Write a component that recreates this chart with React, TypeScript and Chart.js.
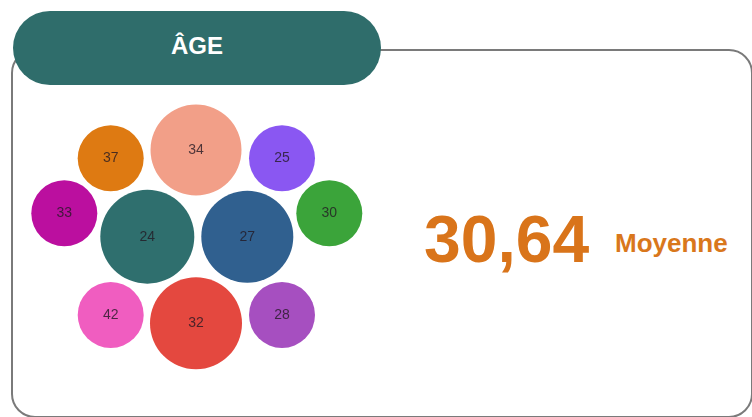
import React, { useEffect, useRef } from "react";
import { Chart, registerables } from "chart.js";

Chart.register(...registerables);

// Ages shown in each bubble
const ages = [37, 34, 25, 33, 24, 27, 30, 42, 32, 28];
// Packed-bubble layout (layout units) and bubble radii
const bubbleX = [90.7, 176, 262, 44.3, 127.3, 227.3, 309.3, 90.7, 176, 262];
const bubbleY = [63.3, 55, 63.3, 118.3, 141.7, 141.7, 118.3, 220, 228.3, 220];
const bubbleR = [33, 45.5, 33, 33, 47, 46, 33, 33, 46, 33];
const bubbleColors = [
  "#de7a12",
  "#f29f88",
  "#8a57f2",
  "#bb0f9f",
  "#2f6f6e",
  "#30608f",
  "#3ba43a",
  "#f05dc0",
  "#e4483f",
  "#a64fc0",
];

const title = "ÂGE";
const meanValue = "30,64";
const meanLabel = "Moyenne";

const FONT = '"Liberation Sans", Arial, Helvetica, sans-serif';

const labelPlugin = {
  id: "bubbleLabels",
  afterDatasetsDraw(chart: any) {
    const ctx = chart.ctx;
    const meta = chart.getDatasetMeta(0);
    ctx.save();
    ctx.font = `14px ${FONT}`;
    ctx.fillStyle = "rgba(35,25,35,0.8)";
    ctx.textAlign = "center";
    ctx.textBaseline = "middle";
    meta.data.forEach((el: any, i: number) => {
      ctx.fillText(String(ages[i]), el.x, el.y);
    });
    ctx.restore();
  },
};

export default function App() {
  const ref = useRef<HTMLCanvasElement | null>(null);

  useEffect(() => {
    if (!ref.current) return;
    const chart = new Chart(ref.current, {
      type: "bubble",
      data: {
        datasets: [
          {
            data: ages.map((a, i) => ({ x: bubbleX[i], y: bubbleY[i], r: bubbleR[i] })),
            backgroundColor: bubbleColors,
            borderWidth: 0,
            clip: false as any,
          },
        ],
      },
      options: {
        animation: false,
        responsive: false,
        events: [],
        layout: { padding: 0, autoPadding: false },
        plugins: { legend: { display: false }, tooltip: { enabled: false } },
        scales: {
          x: { type: "linear", display: false, min: 0, max: 360 },
          y: { type: "linear", display: false, min: 0, max: 290, reverse: true },
        },
      },
      plugins: [labelPlugin],
    });
    return () => chart.destroy();
  }, []);

  return (
    <div
      style={{
        position: "fixed",
        left: 0,
        top: 0,
        width: 752,
        height: 417,
        background: "#ffffff",
        overflow: "hidden",
        fontFamily: FONT,
      }}
    >
      <div
        style={{
          position: "absolute",
          left: 11,
          top: 49,
          width: 738,
          height: 365,
          border: "2.5px solid #7a7a7a",
          borderRadius: 24,
        }}
      />
      <div
        style={{
          position: "absolute",
          left: 13,
          top: 11,
          width: 368,
          height: 74,
          borderRadius: 37,
          background: "#2f6d6b",
          color: "#ffffff",
          fontWeight: 700,
          fontSize: 24,
          lineHeight: "70px",
          textAlign: "center",
        }}
      >
        {title}
      </div>
      <canvas
        ref={ref}
        width={360}
        height={290}
        style={{ position: "absolute", left: 20, top: 95, width: 360, height: 290 }}
      />
      <div
        style={{
          position: "absolute",
          left: 424,
          top: 206,
          fontSize: 66,
          lineHeight: "66px",
          fontWeight: 700,
          color: "#d9741a",
          whiteSpace: "nowrap",
        }}
      >
        {meanValue}
      </div>
      <div
        style={{
          position: "absolute",
          left: 615,
          top: 230,
          fontSize: 26,
          lineHeight: "26px",
          fontWeight: 700,
          color: "#d9771c",
          whiteSpace: "nowrap",
        }}
      >
        {meanLabel}
      </div>
    </div>
  );
}
